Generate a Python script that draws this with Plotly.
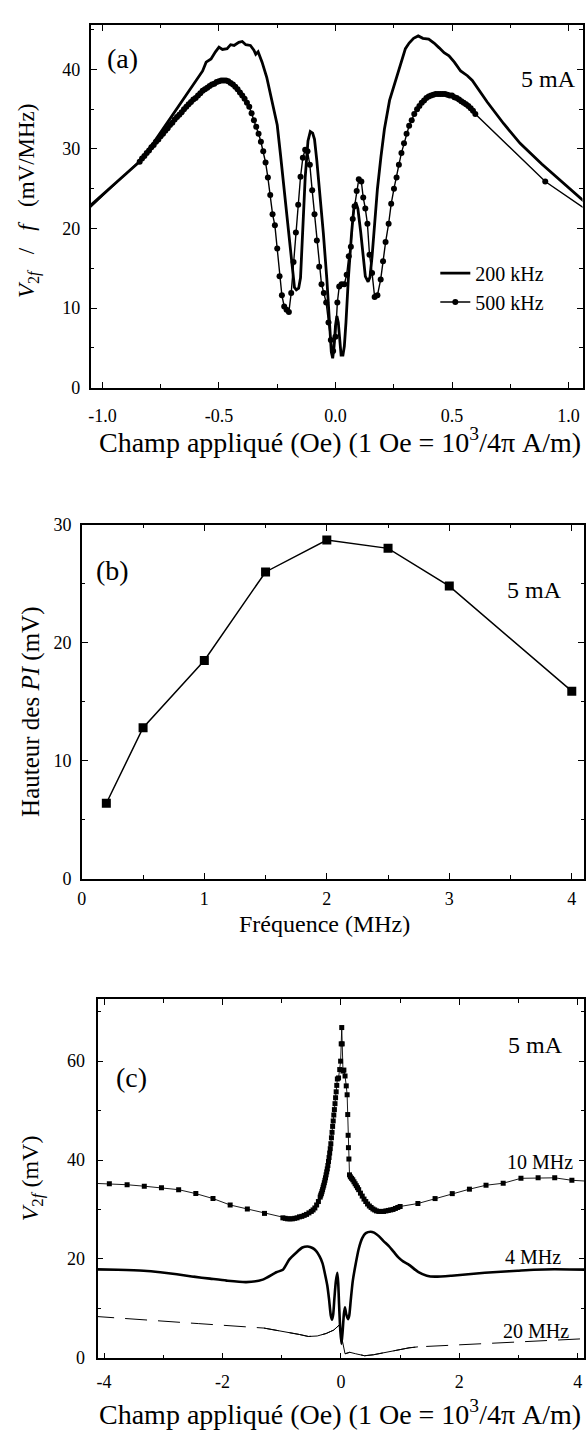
import plotly.graph_objects as go

W, H = 587, 1441
FONT = "Liberation Serif, Times New Roman, serif"

# ---------------- (a) V2f / f versus applied field, 5 mA ----------------
field_200k = [-1.09, -0.84, -0.78, -0.71, -0.64, -0.57, -0.555, -0.534, -0.515, -0.50,
              -0.485, -0.465, -0.45, -0.435, -0.415, -0.40, -0.385, -0.365, -0.35, -0.342,
              -0.332, -0.315, -0.295, -0.272, -0.25, -0.236, -0.222, -0.208, -0.194, -0.184,
              -0.176, -0.168, -0.158, -0.150, -0.140, -0.130, -0.118, -0.108, -0.098, -0.090,
              -0.080, -0.066, -0.052, -0.037, -0.026, -0.018, -0.012, -0.006, 0.000, 0.006,
              0.012, 0.018, 0.024, 0.032, 0.038, 0.045, 0.055, 0.069, 0.078, 0.087,
              0.096, 0.108, 0.118, 0.128, 0.140, 0.148, 0.157, 0.168, 0.180, 0.195,
              0.210, 0.232, 0.250, 0.268, 0.285, 0.300, 0.316, 0.335, 0.355, 0.375,
              0.400, 0.423, 0.445, 0.466, 0.487, 0.510, 0.537, 0.566, 0.587, 0.651,
              0.721, 0.792, 0.885, 1.09]
v_200k = [21.9, 28.4, 30.8, 33.8, 36.8, 39.8, 40.9, 41.3, 42.2, 42.8,
          42.5, 42.6, 43.1, 43.0, 43.4, 43.5, 43.1, 43.0, 42.4, 41.9,
          42.2, 40.9, 39.0, 35.9, 33.0, 29.3, 25.6, 21.8, 18.1, 15.2,
          12.6, 12.3, 12.5, 13.8, 20.0, 26.4, 31.0, 32.2, 32.0, 31.2,
          28.5, 24.3, 19.4, 13.6, 7.8, 4.5, 3.7, 5.2, 7.8, 9.0,
          8.2, 5.5, 4.1, 4.1, 5.2, 8.2, 13.6, 19.4, 22.3, 23.3,
          22.5, 19.6, 16.3, 14.0, 13.3, 13.9, 16.5, 20.8, 25.0, 29.0,
          32.5, 36.1, 37.8, 39.8, 41.4, 42.6, 43.3, 43.9, 44.2, 43.9,
          43.8, 43.3, 42.7, 42.1, 41.7, 40.9, 39.8, 39.2, 38.6, 35.9,
          33.2, 30.7, 28.1, 22.8]

field_500k = [-1.09,
              -0.84, -0.83, -0.82, -0.81, -0.80, -0.79, -0.78, -0.77, -0.76, -0.75,
              -0.74, -0.73, -0.72, -0.71, -0.70, -0.69, -0.68, -0.67, -0.66, -0.65,
              -0.64, -0.63, -0.62, -0.61, -0.60, -0.59, -0.58, -0.57, -0.56, -0.55,
              -0.54, -0.53, -0.52, -0.51, -0.50, -0.49, -0.48, -0.47, -0.46, -0.45,
              -0.44, -0.43, -0.42, -0.41, -0.40, -0.39, -0.38, -0.37, -0.36,
              -0.35, -0.34, -0.33, -0.32, -0.31, -0.30, -0.29, -0.28, -0.27, -0.26,
              -0.25, -0.24, -0.23, -0.22, -0.21, -0.20, -0.19, -0.18, -0.17, -0.16,
              -0.15, -0.14, -0.13, -0.12, -0.11, -0.10, -0.09, -0.08, -0.07, -0.06,
              -0.05, -0.04, -0.03, -0.02, -0.01, 0.00, 0.008, 0.016, 0.026, 0.038,
              0.048, 0.057, 0.066, 0.074, 0.082, 0.091, 0.100, 0.111, 0.119, 0.128,
              0.137, 0.146, 0.157, 0.168, 0.180, 0.194, 0.204, 0.215, 0.228, 0.239,
              0.251, 0.262, 0.272, 0.283, 0.294, 0.305, 0.316, 0.327, 0.338, 0.350,
              0.36, 0.37, 0.38, 0.39, 0.40, 0.41, 0.42, 0.43, 0.44, 0.45,
              0.46, 0.47, 0.48, 0.49, 0.50, 0.51, 0.52, 0.53, 0.54, 0.55,
              0.56, 0.57, 0.58, 0.59, 0.60, 0.90, 1.09]
v_500k = [21.6,
          28.4, 28.8, 29.1, 29.5, 29.8, 30.2, 30.5, 30.9, 31.2, 31.6,
          31.9, 32.3, 32.6, 33.0, 33.3, 33.7, 34.0, 34.3, 34.6, 35.0,
          35.3, 35.6, 35.9, 36.2, 36.4, 36.7, 37.0, 37.3, 37.5, 37.7,
          37.9, 38.1, 38.2, 38.4, 38.5, 38.6, 38.6, 38.6, 38.5, 38.3,
          38.1, 37.8, 37.5, 37.1, 36.7, 36.3, 35.8, 35.3, 34.5,
          33.6, 32.8, 31.9, 30.9, 29.7, 28.3, 26.4, 24.2, 21.8, 20.4,
          17.5, 14.0, 11.6, 10.2, 9.8, 9.5, 11.9, 15.8, 19.5, 23.0,
          26.5, 28.9, 29.9, 29.7, 28.0, 24.8, 21.8, 18.5, 15.2, 13.0,
          11.9, 10.7, 8.2, 6.0, 4.6, 6.4, 10.7, 12.7, 13.0, 13.0,
          14.2, 16.5, 17.7, 21.2, 22.8, 24.7, 26.2, 25.9, 23.9, 22.5,
          20.6, 16.7, 14.4, 11.4, 11.6, 13.6, 15.9, 18.3, 20.6, 23.1,
          25.0, 26.4, 28.0, 29.5, 30.7, 31.9, 32.9, 33.6, 34.4, 35.0,
          35.4, 35.8, 36.1, 36.4, 36.6, 36.7, 36.8, 36.9, 36.9, 36.9,
          36.9, 36.9, 36.8, 36.7, 36.7, 36.5, 36.4, 36.2, 36.0, 35.8,
          35.6, 35.4, 35.1, 34.8, 34.4, 25.9, 22.1]

a_xtick_vals = [-1.0, -0.5, 0.0, 0.5, 1.0]
a_xtick_text = ["-1.0", "-0.5", "0.0", "0.5", "1.0"]

# ---------------- (b) height of the peaks versus frequency ----------------
freq_mhz = [0.2, 0.5, 1.0, 1.5, 2.0, 2.5, 3.0, 4.0]
pi_height_mv = [6.4, 12.8, 18.5, 26.0, 28.7, 28.0, 24.8, 15.9]

# ---------------- (c) V2f versus applied field at 4, 10, 20 MHz ----------------
field_10m = [-4.2, -3.91, -3.61, -3.32, -3.03, -2.74, -2.45, -2.16, -1.87, -1.58, -1.29, -0.98,
             -0.94, -0.90, -0.86, -0.82, -0.78, -0.74, -0.70, -0.66, -0.62, -0.58, -0.54, -0.50,
             -0.47, -0.44, -0.41, -0.38,
             -0.35, -0.34, -0.33, -0.32, -0.31, -0.30, -0.29, -0.28, -0.27, -0.26,
             -0.25, -0.24, -0.23, -0.22, -0.21, -0.20, -0.19, -0.18, -0.17, -0.16,
             -0.15, -0.14, -0.13, -0.12, -0.11, -0.10, -0.09, -0.08, -0.07,
             -0.06, -0.04, -0.02, -0.005, 0.005, 0.014, 0.022, 0.035, 0.05, 0.07, 0.09, 0.105,
             0.115, 0.122, 0.127, 0.135, 0.145,
             0.16, 0.18, 0.20, 0.22, 0.24, 0.26, 0.28, 0.30,
             0.33, 0.36, 0.39, 0.42, 0.45, 0.48, 0.51, 0.54, 0.57, 0.60,
             0.64, 0.68, 0.72, 0.76, 0.80, 0.84, 0.88, 0.92, 0.96, 1.00,
             1.30, 1.59, 1.88, 2.17, 2.45, 2.74, 3.04, 3.33, 3.61, 3.90, 4.2]
v_10m = [35.3, 35.2, 35.0, 34.7, 34.4, 34.0, 33.2, 32.2, 30.9, 30.1, 29.2, 28.3,
         28.2, 28.1, 28.1, 28.1, 28.2, 28.3, 28.5, 28.6, 28.8, 29.0, 29.3, 29.6,
         29.9, 30.3, 30.9, 31.6,
         32.5, 32.9, 33.2, 33.6, 34.0, 34.5, 34.9, 35.4, 35.9, 36.4,
         37.0, 37.6, 38.2, 38.9, 39.7, 40.5, 41.4, 42.3, 43.3, 44.5,
         45.6, 46.8, 47.9, 49.1, 50.2, 51.4, 52.6, 53.8, 55.1,
         56.4, 56.6, 58.3, 60.0, 63.5, 66.8, 63.5, 58.0, 58.2, 57.0, 55.0, 53.2,
         49.2, 45.0, 42.5, 40.2, 37.0,
         36.6, 36.3, 36.0, 35.6, 35.2, 34.8, 34.4, 34.0,
         33.3, 32.7, 32.1, 31.6, 31.1, 30.7, 30.4, 30.1, 29.9, 29.7,
         29.6, 29.6, 29.6, 29.7, 29.8, 29.9, 30.0, 30.2, 30.4, 30.6,
         31.2, 32.2, 33.2, 34.1, 34.9, 35.3, 36.3, 36.4, 36.4, 35.9, 35.7]

field_4m = [-4.2, -3.77, -3.33, -3.05, -2.77, -2.49, -2.21, -1.93, -1.60, -1.32,
            -1.09, -0.98, -0.87, -0.76, -0.65, -0.56, -0.48, -0.42, -0.36, -0.31,
            -0.27, -0.23, -0.20, -0.17, -0.15, -0.13, -0.11, -0.085, -0.06, -0.045,
            -0.03, -0.01, 0.01, 0.03, 0.05, 0.068, 0.09, 0.12, 0.14, 0.165,
            0.20, 0.25, 0.30, 0.36, 0.42, 0.50, 0.56, 0.64, 0.72, 0.81,
            0.90, 0.97, 1.05, 1.14, 1.31, 1.45, 1.59, 1.87, 2.15, 2.43,
            2.70, 2.98, 3.26, 3.60, 4.2]
v_4m = [17.9, 17.8, 17.6, 17.3, 16.9, 16.4, 16.0, 15.6, 15.3, 15.8,
        17.3, 17.8, 19.9, 21.2, 22.3, 22.5, 22.2, 21.6, 20.5, 19.1,
        17.0, 14.6, 11.8, 8.5, 7.7, 8.8, 12.0, 15.5, 17.2, 15.0,
        10.5, 5.5, 2.8, 5.5, 8.8, 10.2, 8.8, 7.8, 8.5, 11.5,
        15.5, 19.0, 22.0, 24.2, 25.2, 25.5, 25.3, 24.6, 23.6, 22.6,
        21.3, 20.3, 19.5, 18.9, 17.3, 16.6, 16.4, 16.6, 16.9, 17.2,
        17.4, 17.6, 17.8, 17.9, 17.8]

field_20m = [-4.2, -3.3, -2.4, -1.3, -1.15, -1.0, -0.85, -0.7, -0.55, -0.4,
             -0.25, -0.12, -0.03, 0.07, 0.15, 0.25, 0.4, 0.55, 0.75, 0.95,
             1.15, 1.3, 2.4, 3.3, 4.2]
v_20m = [8.4, 7.6, 6.9, 6.0, 5.7, 5.3, 5.0, 4.7, 4.3, 4.4,
         4.9, 5.6, 6.6, 0.8, 1.1, 0.8, 0.4, 0.6, 1.1, 1.6,
         2.0, 2.2, 2.8, 3.4, 3.9]

c_xtick_vals = [-4, -2, 0, 2, 4]
c_xtick_text = ["-4", "-2", "0", "2", "4"]


def px(x):
    return x / W


def py(y):
    return 1 - y / H


fig = go.Figure()

# (a)
fig.add_trace(go.Scatter(x=field_200k, y=v_200k, mode="lines", name="200 kHz",
                         line=dict(color="black", width=2.8), xaxis="x", yaxis="y"))
fig.add_trace(go.Scatter(x=field_500k, y=v_500k, mode="lines+markers", name="500 kHz",
                         line=dict(color="black", width=1.4),
                         marker=dict(symbol="circle", size=6, color="black"),
                         xaxis="x", yaxis="y"))

# (b)
fig.add_trace(go.Scatter(x=freq_mhz, y=pi_height_mv, mode="lines+markers", showlegend=False,
                         line=dict(color="black", width=1.5),
                         marker=dict(symbol="square", size=9, color="black"),
                         xaxis="x2", yaxis="y2"))

# (c) 20 MHz: dashed over the full sweep, solid where the sweep is dense
fig.add_trace(go.Scatter(x=field_20m, y=v_20m, mode="lines", showlegend=False,
                         line=dict(color="black", width=1.0, dash="22px,11px"),
                         xaxis="x3", yaxis="y3"))
dense_x, dense_y = [], []
for xv, yv in zip(field_20m, v_20m):
    if abs(xv) > 1.31:
        continue
    if dense_y and dense_y[-1] is not None and abs(yv - dense_y[-1]) > 3:
        dense_x.append(None)
        dense_y.append(None)
    dense_x.append(xv)
    dense_y.append(yv)
fig.add_trace(go.Scatter(x=dense_x, y=dense_y, mode="lines", showlegend=False,
                         line=dict(color="black", width=1.0), connectgaps=False,
                         xaxis="x3", yaxis="y3"))
fig.add_trace(go.Scatter(x=field_4m, y=v_4m, mode="lines", showlegend=False,
                         line=dict(color="black", width=2.6, shape="spline", smoothing=0.6),
                         xaxis="x3", yaxis="y3"))
fig.add_trace(go.Scatter(x=field_10m, y=v_10m, mode="lines+markers", showlegend=False,
                         line=dict(color="black", width=0.9),
                         marker=dict(symbol="square", size=5, color="black"),
                         xaxis="x3", yaxis="y3"))


def axis(domain, rng, anchor, minor_dtick, **kw):
    d = dict(domain=domain, range=rng, anchor=anchor, showline=True, linecolor="black",
             linewidth=1.6, mirror="ticks", ticks="inside", ticklen=6, tickwidth=1.2,
             tickcolor="black", showgrid=False, zeroline=False, fixedrange=True,
             tickfont=dict(family=FONT, size=18, color="black"),
             minor=dict(ticks="inside", ticklen=3.5, tickwidth=1, tickcolor="black",
                        dtick=minor_dtick, showgrid=False))
    d.update(kw)
    return d


fig.update_layout(
    width=W, height=H, margin=dict(l=0, r=0, t=0, b=0),
    paper_bgcolor="white", plot_bgcolor="white",
    font=dict(family=FONT, color="black"),
    xaxis=axis([px(86.5), px(582.5)], [-1.05, 1.06], "y", 0.25,
               tickvals=a_xtick_vals, ticktext=a_xtick_text, ticklabelstandoff=11),
    yaxis=axis([py(383), py(15)], [0, 45.6], "x", 5, dtick=10, ticklabelstandoff=5),
    xaxis2=axis([px(77.5), px(584)], [0, 4.1], "y2", 0.5, dtick=1, ticklabelstandoff=3),
    yaxis2=axis([py(881), py(522)], [0, 30], "x2", 5, dtick=10, ticklabelstandoff=5),
    xaxis3=axis([px(93.3), px(584.3)], [-4.11, 4.11], "y3", 1,
                tickvals=c_xtick_vals, ticktext=c_xtick_text, ticklabelstandoff=6),
    yaxis3=axis([py(1367.3), py(1003.3)], [-0.12, 72.5], "x3", 10, dtick=20,
                ticklabelstandoff=7),
    legend=dict(x=px(434), y=py(247), xanchor="left", yanchor="top",
                bgcolor="rgba(0,0,0,0)", font=dict(family=FONT, size=20, color="black"),
                tracegroupgap=0),
    showlegend=True,
)


def label(x, y, text, size, angle=0):
    fig.add_annotation(x=px(x), y=py(y), xref="paper", yref="paper", text=text,
                       showarrow=False, textangle=angle, xanchor="center", yanchor="middle",
                       font=dict(family=FONT, size=size, color="black"))


field_title = "Champ appliqué (Oe) (1 Oe = 10<sup>3</sup>/4π A/m)"
gap = "&nbsp;&nbsp;&nbsp;"

# (a)
label(119, 49, "(a)", 28)
label(548, 70, "5 mA", 24)
label(24, 193, "<i>V</i><sub>2<i>f</i></sub>" + gap + "/" + gap + "<i>f</i>" + gap + "(mV/MHz)",
      23, -90)
label(338, 437, field_title, 28)

# (b)
label(108, 568, "(b)", 28)
label(534, 588, "5 mA", 24)
label(26, 712, "Hauteur des <i>PI</i> (mV)", 25, -90)
label(322, 927, "Fréquence (MHz)", 24)

# (c)
label(128, 1083, "(c)", 28)
label(535, 1050, "5 mA", 24)
label(540, 1168, "10 MHz", 20)
label(533, 1265, "4 MHz", 20)
label(536, 1340, "20 MHz", 20)
label(27, 1185, "<i>V</i><sub>2<i>f</i></sub> (mV)", 24, -90)
label(338, 1422, field_title, 28)

fig.write_html("out.html")
